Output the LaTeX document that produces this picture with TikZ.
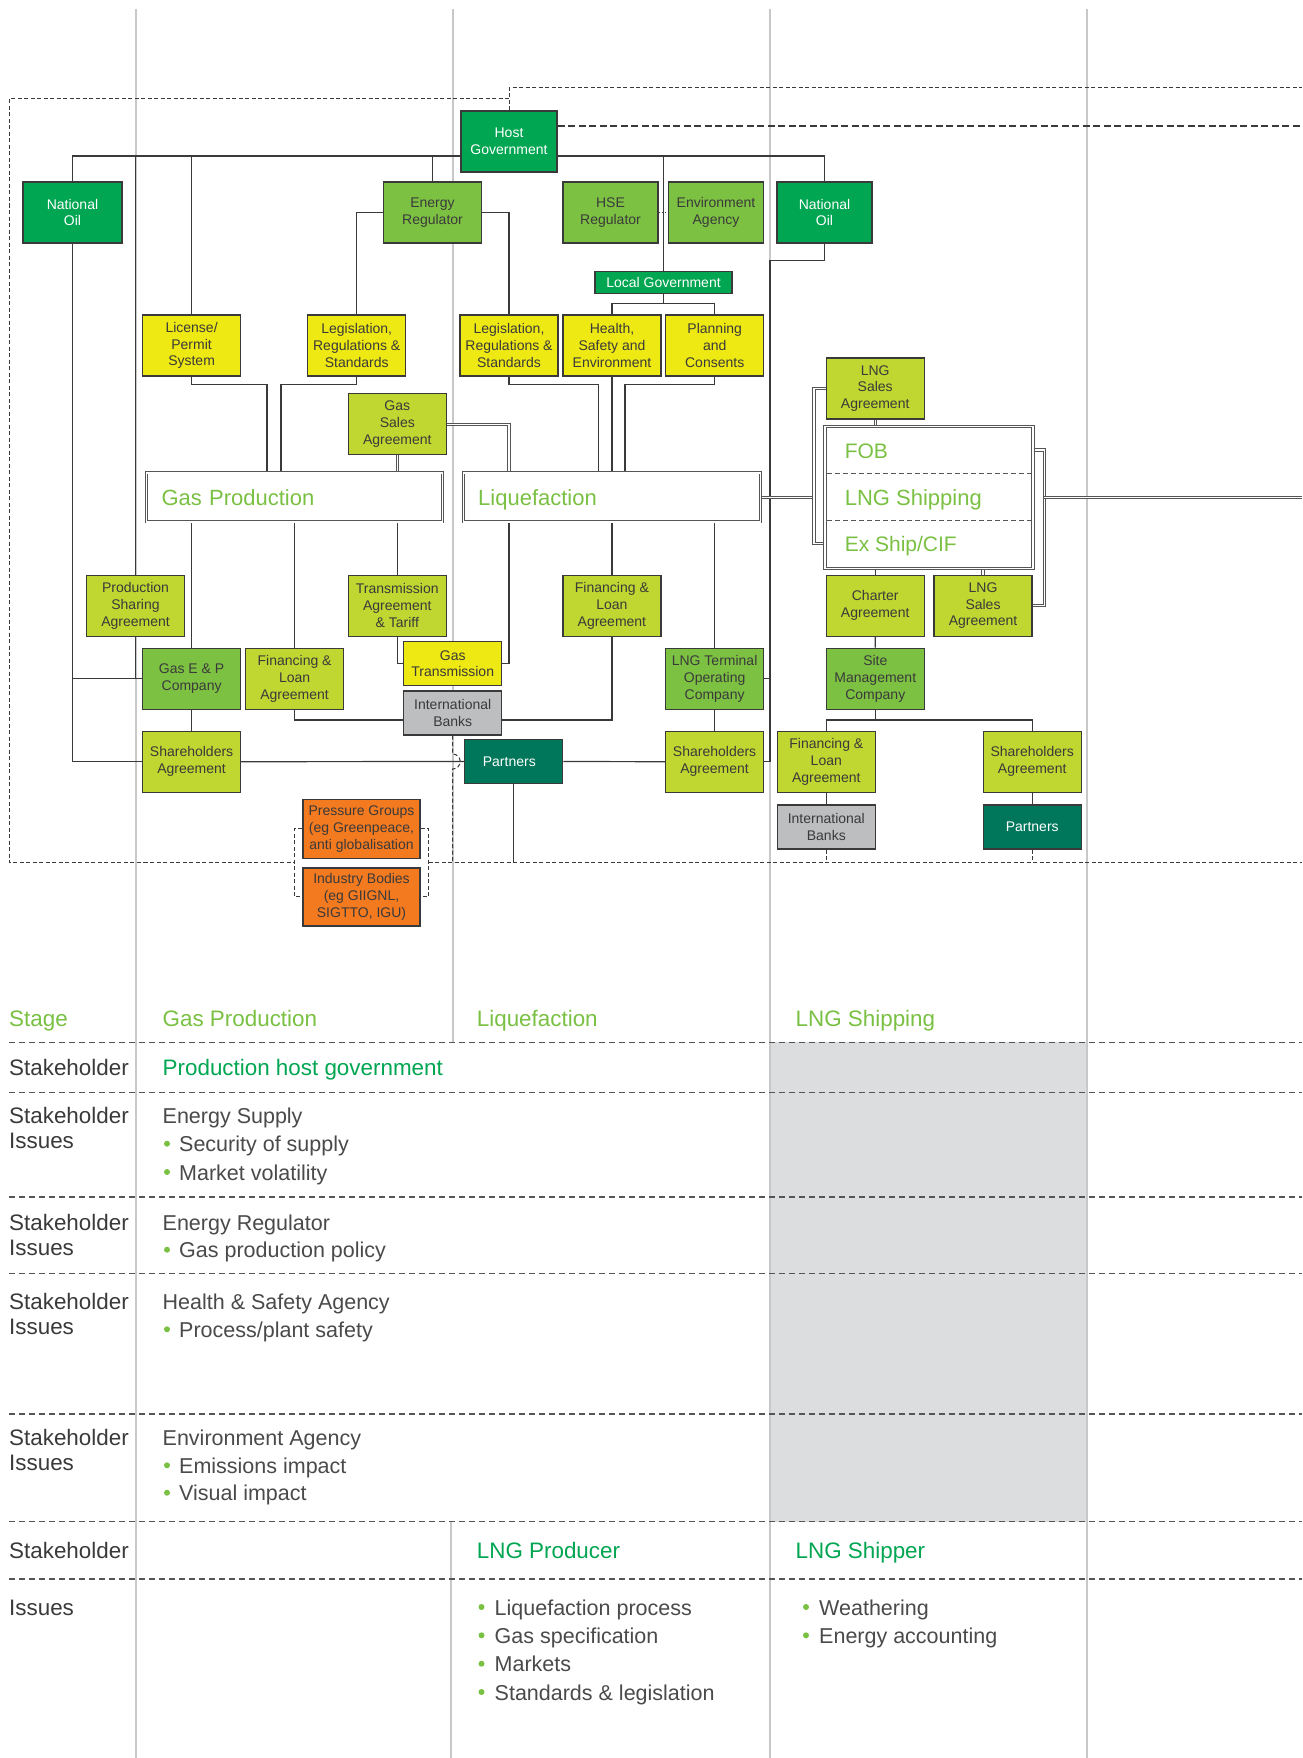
\documentclass[tikz,border=0pt]{standalone}
\usepackage{fontspec}
\setmainfont{Liberation Sans}
\usetikzlibrary{calc}
\definecolor{dkgreen}{HTML}{00A651}
\definecolor{midgreen}{HTML}{7DC143}
\definecolor{limec}{HTML}{BFD730}
\definecolor{ylw}{HTML}{EEE813}
\definecolor{bankgray}{HTML}{BCBEC0}
\definecolor{tealc}{HTML}{00775B}
\definecolor{orng}{HTML}{F47A20}
\definecolor{lgtext}{HTML}{7AC143}
\definecolor{lnc}{HTML}{3A3A3A}
\definecolor{txt}{HTML}{3A3A3A}
\definecolor{bodytxt}{HTML}{4A4A4A}
\definecolor{gridc}{HTML}{C8C8C8}
\definecolor{shadec}{HTML}{DCDDDF}
\definecolor{dblc}{HTML}{555555}
\newcommand\bxf{\fontsize{14}{16.8}\selectfont}
\newcommand\bigf{\fontsize{22}{26}\selectfont}
\newcommand\bigfs{\fontsize{21}{26}\selectfont}
\newcommand\tbf{\fontsize{21.5}{25}\selectfont}
\newcommand\tlf{\fontsize{22.4}{25}\selectfont}
\pgfdeclarelayer{gridlayer}
\pgfdeclarelayer{linelayer}
\pgfsetlayers{gridlayer,linelayer,main}
\tikzset{
  box/.style={draw=lnc, line width=1.2, inner sep=1, align=center, font=\bxf, text=txt,
    minimum width=98, minimum height=61},
  dblbox/.style={draw=dblc, double=white, double distance=1.4, line width=0.9, fill=white},
  conn/.style={draw=lnc, line width=1.2},
  dbl/.style={draw=dblc, double=white, double distance=1.4, line width=0.9},
  thindash/.style={draw=lnc, line width=1, dash pattern=on 4 off 2.5},
  thickdash/.style={draw=lnc, line width=1.8, dash pattern=on 7 off 3.5},
  tabdash/.style={draw=dblc, line width=1.2, dash pattern=on 6 off 4},
  divdash/.style={draw=dblc, line width=1.1, dash pattern=on 5 off 3},
  gridline/.style={draw=gridc, line width=1.2},
  tlabel/.style={anchor=base west, inner sep=0, font=\tlf, text=txt},
  tbody/.style={anchor=base west, inner sep=0, font=\tbf, text=bodytxt},
  shiplbl/.style={anchor=base west, inner sep=0, text=lgtext},
  bul/.style={fill=lgtext},
  biglbl/.style={dblbox, minimum height=49, inner xsep=15, inner ysep=0, align=left,
    font=\bigf, text=lgtext, text height=17, text depth=0.5},
}
\begin{document}
\begin{tikzpicture}[x=1pt,y=-1pt]
\useasboundingbox (0,0) rectangle (1302,1758);

% ---------------- nodes ----------------
\node[box, fill=dkgreen, text=white, minimum width=96] (hostgov) at (509,141.5) {Host\\Government};
\node[box, fill=dkgreen, text=white, minimum width=99] (natoilL) at (72.5,212.5) {National\\Oil};
\node[box, fill=midgreen] (enreg) at (432.5,212.5) {Energy\\Regulator};
\node[box, fill=midgreen, minimum width=95] (hsereg) at (610.5,212.5) {HSE\\Regulator};
\node[box, fill=midgreen, minimum width=95] (envag) at (716,212.5) {Environment\\Agency};
\node[box, fill=dkgreen, text=white, minimum width=95] (natoilR) at (824.5,212.5) {National\\Oil};
\node[box, fill=dkgreen, text=white, minimum width=137, minimum height=21.6] (locgov) at (663.5,282.5) {Local Government};

\node[box, fill=ylw] (license) at (191.6,345.5) {License/\\Permit\\System};
\node[box, fill=ylw] (legis1) at (356.7,345.5) {Legislation,\\Regulations \&\\Standards};
\node[box, fill=ylw] (legis2) at (509,345.5) {Legislation,\\Regulations \&\\Standards};
\node[box, fill=ylw] (hse) at (612,345.5) {Health,\\Safety and\\Environment};
\node[box, fill=ylw] (planning) at (714.7,345.5) {Planning\\and\\Consents};

\node[box, fill=limec] (gsa) at (397.3,424.2) {Gas\\Sales\\Agreement};
\node[box, fill=limec] (lngsa1) at (875.2,388.5) {LNG\\Sales\\Agreement};

\node[biglbl, text width=266] (gasprod) at (294.5,497.3) {Gas Production};
\node[biglbl, text width=267] (liquef) at (611.7,497.3) {Liquefaction};
\node[dblbox, minimum width=208, minimum height=142, inner sep=0] (lngship) at (929,497.2) {};
\node[shiplbl, font=\bigfs] (fob) at (844.6,458.5) {FOB};
\node[shiplbl, font=\bigf] (shiplbl) at (844.6,505.7) {LNG Shipping};
\node[shiplbl, font=\bigfs] (exship) at (844.6,551.5) {Ex Ship/CIF};

\node[box, fill=limec] (psa) at (135.5,605.7) {Production\\Sharing\\Agreement};
\node[box, fill=limec] (transm) at (397.3,605.7) {Transmission\\Agreement\\\& Tariff};
\node[box, fill=limec] (finliq) at (611.9,605.7) {Financing \&\\Loan\\Agreement};
\node[box, fill=limec] (charter) at (875.2,605.7) {Charter\\Agreement};
\node[box, fill=limec] (lngsa2) at (983,605.7) {LNG\\Sales\\Agreement};

\node[box, fill=midgreen] (gasep) at (191.6,678.8) {Gas E \& P\\Company};
\node[box, fill=limec] (fingp) at (294.6,678.8) {Financing \&\\Loan\\Agreement};
\node[box, fill=ylw, minimum height=44] (gastrans) at (452.7,663.7) {Gas\\Transmission};
\node[box, fill=bankgray, minimum height=44] (intlbank1) at (452.7,713) {International\\Banks};
\node[box, fill=midgreen] (lngterm) at (714.6,678.8) {LNG Terminal\\Operating\\Company};
\node[box, fill=midgreen] (sitemgmt) at (875.3,678.8) {Site\\Management\\Company};

\node[box, fill=limec] (sh1) at (191.6,761.7) {Shareholders\\Agreement};
\node[box, fill=tealc, text=white, minimum height=44.4] (partners1) at (513.8,761.5) {Partners\hspace*{9pt}};
\node[box, fill=limec] (sh2) at (714.6,761.7) {Shareholders\\Agreement};
\node[box, fill=limec] (finship) at (826.3,761.7) {Financing \&\\Loan\\Agreement};
\node[box, fill=limec] (sh3) at (1032.2,761.7) {Shareholders\\Agreement};
\node[box, fill=bankgray, minimum height=44] (intlbank2) at (826.3,827) {International\\Banks};
\node[box, fill=tealc, text=white, minimum height=44] (partners2) at (1032.2,827) {Partners};

\node[box, fill=orng, minimum width=117, minimum height=59] (pressure) at (361.5,828.8) {Pressure Groups\\(eg Greenpeace,\\anti globalisation};
\node[box, fill=orng, minimum width=117, minimum height=58] (industry) at (361.5,896.9) {Industry Bodies\\(eg GIIGNL,\\SIGTTO, IGU)};

% named helper coordinates
\coordinate (bus) at (509,156);
\coordinate (natR) at (770,260.3);
\coordinate (lg) at (663.5,303.7);
\coordinate (lic) at (267,384.7);
\coordinate (lg1) at (281,384.7);
\coordinate (lg2) at (598.5,384.7);
\coordinate (pl) at (625,384.7);
\coordinate (bk1) at (814,543.7);
\coordinate (bk2) at (1044.3,450);
\coordinate (rightend) at (1302,497.3);
\coordinate (smj) at (875.3,720);
\coordinate (tl) at (9,99);
\coordinate (bl) at (9,862);
\coordinate (br) at (1302,862);
\coordinate (topr) at (1302,88);
\coordinate (thd) at (1302,125.7);

% ---------------- background: grid + shading ----------------
\begin{pgfonlayer}{gridlayer}
  \fill[white] (0,0) rectangle (1302,1758);
  \fill[shadec] (770,1042.3) rectangle (1087,1521.7);
  \draw[gridline] (136,9) -- (136,1758);
  \draw[gridline] (453,9) -- (453,1042.3);
  \draw[gridline] (451,1521.7) -- (451,1758);
  \draw[gridline] (770,9) -- (770,1758);
  \draw[gridline] (1087,9) -- (1087,1758);
\end{pgfonlayer}

% ---------------- connectors ----------------
\begin{pgfonlayer}{linelayer}
  \draw[conn] (natoilL.north) |- (bus) -| (natoilR.north);
  \draw[conn] (psa.north) -- (psa.north |- bus);
  \draw[conn] (license.north) -- (license.north |- bus);
  \draw[conn] (enreg.north) -- (enreg.north |- bus);
  \draw[conn] (locgov.north) -- (locgov.north |- bus);
  \draw[conn] (enreg.west) -| (legis1.north);
  \draw[conn] (enreg.east) -| (legis2.north);
  \draw[draw=lnc, line width=1.2, dotted] (hsereg.east) -- (envag.west);
  \draw[conn] (natoilR.south) |- (natR) -- (natR |- sh2.east) -- (sh2.east);
  \draw[conn] (lngterm.east) -- (lngterm.east -| natR);
  \draw[conn] (locgov.south) -- (lg);
  \draw[conn] (hse.north) |- (lg) -| (planning.north);

  \draw[conn] (license.south) |- (lic) -- (lic |- gasprod.north);
  \draw[conn] (legis1.south) |- (lg1) -- (lg1 |- gasprod.north);
  \draw[conn] (legis2.south) |- (lg2) -- (lg2 |- liquef.north);
  \draw[conn] (hse.south) -- (hse.south |- liquef.north);
  \draw[conn] (planning.south) |- (pl) -- (pl |- liquef.north);
  \draw[dbl] (gsa.south) -- (gsa.south |- gasprod.north);
  \draw[dbl] (gsa.east) -| (legis2.south |- liquef.north);

  \draw[conn] (natoilL.south) |- (sh1.west);
  \draw[conn] (gasep.west) -- (gasep.west -| natoilL.south);
  \draw[conn] (psa.south) -- (psa.south |- gasep.west);
  \draw[conn] (gasprod.south -| gasep.north) -- (gasep.north);
  \draw[conn] (gasprod.south -| fingp.north) -- (fingp.north);
  \draw[conn] (gasprod.south -| transm.north) -- (transm.north);
  \draw[conn] (transm.south) |- (gastrans.west);
  \draw[conn] (liquef.south -| legis2.south) |- (gastrans.east);
  \draw[conn] (liquef.south -| finliq.north) -- (finliq.north);
  \draw[conn] (liquef.south -| lngterm.north) -- (lngterm.north);
  \draw[conn] (finliq.south) |- ($(intlbank1.east)+(0,7)$);
  \draw[conn] (fingp.south) |- ($(intlbank1.west)+(0,7)$);
  \draw[conn] (gasep.south) -- (sh1.north);
  \draw[conn] (sh1.east) -- (partners1.west);
  \draw[conn] (partners1.east) -- (sh2.west);
  \draw[conn] (partners1.south) -- (partners1.south |- bl);
  \draw[conn] (lngterm.south) -- (sh2.north);
  \draw[thindash] (intlbank1.south) -- (452.7,754) arc[start angle=-90, end angle=90, radius=7.5] -- (intlbank1.south |- bl);

  \draw[dbl] (liquef.east) -- (liquef.east -| bk1);
  \draw[dbl] (lngsa1.west) -| (bk1) -- (bk1 -| lngship.west);
  \draw[dbl] (lngsa1.south) -- (lngsa1.south |- lngship.north);
  \draw[dbl] (lngship.east |- bk2) -- (bk2) |- (lngsa2.east);
  \draw[dbl] (bk2 |- rightend) -- (rightend);
  \draw[conn] (charter.north) -- (charter.north |- lngship.south);
  \draw[dbl] (lngsa2.north) -- (lngsa2.north |- lngship.south);
  \draw[conn] (charter.south) -- (sitemgmt.north);
  \draw[conn] (sitemgmt.south) -- (smj);
  \draw[conn] (finship.north) -- (finship.north |- smj) -- (sh3.north |- smj) -- (sh3.north);
  \draw[conn] (finship.south) -- (intlbank2.north);
  \draw[conn] (sh3.south) -- (partners2.north);
  \draw[thindash] (intlbank2.south) -- (intlbank2.south |- bl);
  \draw[thindash] (partners2.south) -- (partners2.south |- bl);

  % dashed boundary
  \draw[thindash] (hostgov.north) -- (hostgov.north |- topr) -- (topr);
  \draw[thindash] (tl -| hostgov.north) -- (tl) -- (bl) -- ($(pressure.west |- bl)+(-8,0)$);
  \draw[thindash] ($(pressure.east |- bl)+(8,0)$) -- (br);
  \draw[thindash] (pressure.west) -- ++(-8,0) |- (industry.west);
  \draw[thindash] (pressure.east) -- ++(8,0) |- (industry.east);
  \draw[thickdash] (hostgov.east |- thd) -- (thd);
\end{pgfonlayer}

% dividers in LNG shipping box
\draw[divdash] ($(lngship.north west)+(2.5,47.6)$) -- ($(lngship.north east)+(-2.5,47.6)$);
\draw[divdash] ($(lngship.north west)+(2.5,94.6)$) -- ($(lngship.north east)+(-2.5,94.6)$);

% ---------------- table ----------------
\foreach \yy in {1042.3,1092.7,1197,1273.3,1414,1521.7,1579}
  \draw[tabdash] (9,\yy) -- (1302,\yy);

\node[tlabel, text=lgtext] (stage) at (9,1026.7) {Stage};
\node[tlabel, text=lgtext] (hgp) at (162.5,1026.7) {Gas Production};
\node[tlabel, text=lgtext] (hliq) at (476.7,1026.7) {Liquefaction};
\node[tlabel, text=lgtext] (hship) at (795.5,1026.7) {LNG Shipping};

\node[tlabel] (r1a) at (9,1075) {Stakeholder};
\node[tlabel, text=dkgreen] (r1b) at (162.5,1075) {Production host government};

\node[tlabel] (r2a) at (9,1123.3) {Stakeholder};
\node[tlabel] (r2b) at (9,1148.3) {Issues};
\node[tbody] (r2c) at (162.5,1123.3) {Energy Supply};
\node[tbody] (r2d) at (179,1151.7) {Security of supply};
\node[tbody] (r2e) at (179,1180) {Market volatility};

\node[tlabel] (r3a) at (9,1230) {Stakeholder};
\node[tlabel] (r3b) at (9,1255) {Issues};
\node[tbody] (r3c) at (162.5,1230) {Energy Regulator};
\node[tbody] (r3d) at (179,1257.7) {Gas production policy};

\node[tlabel] (r4a) at (9,1309.3) {Stakeholder};
\node[tlabel] (r4b) at (9,1334.3) {Issues};
\node[tbody] (r4c) at (162.5,1309.3) {Health \& Safety Agency};
\node[tbody] (r4d) at (179,1337.3) {Process/plant safety};

\node[tlabel] (r5a) at (9,1445) {Stakeholder};
\node[tlabel] (r5b) at (9,1470) {Issues};
\node[tbody] (r5c) at (162.5,1445) {Environment Agency};
\node[tbody] (r5d) at (179,1473.3) {Emissions impact};
\node[tbody] (r5e) at (179,1500.7) {Visual impact};

\node[tlabel] (r6a) at (9,1558) {Stakeholder};
\node[tlabel, text=dkgreen] (r6b) at (476.7,1558) {LNG Producer};
\node[tlabel, text=dkgreen] (r6c) at (795.5,1558) {LNG Shipper};

\node[tlabel] (r7a) at (9,1615) {Issues};
\node[tbody] (r7b) at (494.5,1615) {Liquefaction process};
\node[tbody] (r7c) at (494.5,1643.3) {Gas specification};
\node[tbody] (r7d) at (494.5,1671.7) {Markets};
\node[tbody] (r7e) at (494.5,1700) {Standards \& legislation};
\node[tbody] (r7f) at (819,1615) {Weathering};
\node[tbody] (r7g) at (819,1643.3) {Energy accounting};

% bullets
\foreach \bx/\by in {167/1151.7,167/1180,167/1257.7,167/1337.3,167/1473.3,167/1500.7,
  481.5/1615,481.5/1643.3,481.5/1671.7,481.5/1700,806/1615,806/1643.3}
  \fill[bul] (\bx,\by-8) circle[radius=3];
\end{tikzpicture}
\end{document}
